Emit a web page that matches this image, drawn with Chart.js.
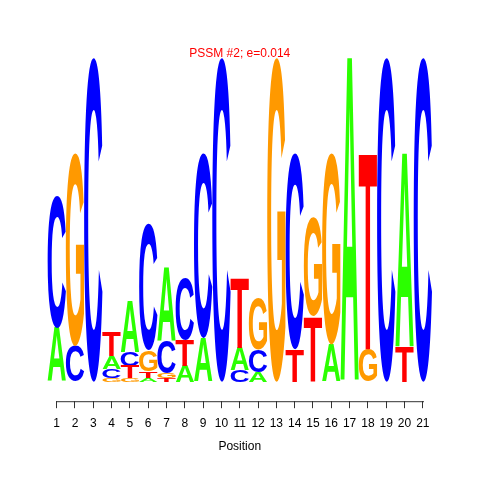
<!DOCTYPE html>
<html>
<head>
<meta charset="utf-8">
<script src="https://cdn.jsdelivr.net/npm/chart.js@4/dist/chart.umd.min.js"></script>
<style>
html,body{margin:0;padding:0;background:#fff;}
canvas{display:block;}
</style>
</head>
<body>
<canvas id="c" width="480" height="480"></canvas>
<script>
const positions = ['1','2','3','4','5','6','7','8','9','10','11','12','13','14','15','16','17','18','19','20','21'];
const letters = ['A','C','G','T'];
const bitsA = [0.33,0,0,0.08,0.32,0.025,0.45,0.10,0.27,0,0.14,0.06,0,0,0,0.23,2.0,0,0,1.20,0];
const bitsC = [0.81,0.22,2.0,0.06,0.085,0.78,0.20,0.38,1.14,2.0,0.07,0.14,0,1.21,0,0,0,0,2.0,0,2.0];
const bitsG = [0,1.19,0,0.02,0.02,0.13,0.03,0,0,0,0,0.32,2.0,0,0.61,1.18,0,0.20,0,0,0];
const bitsT = [0,0,0,0.15,0.075,0.04,0.02,0.16,0,0,0.43,0,0,0.20,0.40,0,0,1.21,0,0.21,0];
const letterColors = {A:'#2bff00', C:'#0000ff', G:'#ff9900', T:'#ff0000'};
const titleText = 'PSSM #2; e=0.014';
const xTitle = 'Position';

const bits = {A:bitsA, C:bitsC, G:bitsG, T:bitsT};
// build floating ranges: letters stacked in increasing height per column
const ranges = {A:[],C:[],G:[],T:[]};
positions.forEach((p,i)=>{
  const order = letters.map(l=>({l, h:bits[l][i]})).sort((a,b)=>a.h-b.h);
  let base = 0;
  order.forEach(o=>{
    if (o.h > 0) { ranges[o.l][i] = [base, base+o.h]; base += o.h; }
    else ranges[o.l][i] = null;
  });
});

const glyphFont = 'bold 200px "Liberation Sans", Arial, sans-serif';
const logoPlugin = {
  id:'logo',
  afterDatasetsDraw(chart){
    const ctx = chart.ctx;
    chart.data.datasets.forEach((ds,di)=>{
      const meta = chart.getDatasetMeta(di);
      meta.data.forEach((el,i)=>{
        if (!ds.data[i]) return;
        const p = el.getProps(['x','y','base','width'], true);
        const top = Math.min(p.y,p.base), bot = Math.max(p.y,p.base);
        const h = bot-top; if (h < 0.3) return;
        const w = p.width;
        ctx.save();
        ctx.font = glyphFont;
        ctx.textBaseline = 'alphabetic';
        ctx.textAlign = 'left';
        const m = ctx.measureText(ds.label);
        const gw = m.actualBoundingBoxLeft + m.actualBoundingBoxRight;
        const gh = m.actualBoundingBoxAscent + m.actualBoundingBoxDescent;
        ctx.translate(p.x - w/2, top);
        ctx.scale(w/gw, h/gh);
        ctx.fillStyle = letterColors[ds.label];
        ctx.fillText(ds.label, m.actualBoundingBoxLeft, m.actualBoundingBoxAscent);
        ctx.restore();
      });
    });
    // axis line from first to last tick
    const xs = chart.scales.x;
    const y = chart.chartArea.bottom;
    ctx.save();
    ctx.strokeStyle = '#333';
    ctx.lineWidth = 1;
    ctx.beginPath();
    ctx.moveTo(Math.round(xs.getPixelForValue(0)), y+0.5);
    ctx.lineTo(Math.round(xs.getPixelForValue(positions.length-1))+1, y+0.5);
    ctx.stroke();
    ctx.restore();
  }
};

new Chart(document.getElementById('c'), {
  type:'bar',
  data:{
    labels: positions,
    datasets: letters.map(l=>({
      label:l,
      data: ranges[l],
      backgroundColor:'rgba(0,0,0,0)',
      borderWidth:0,
      grouped:false,
      barPercentage:1.0,
      categoryPercentage:1.0
    }))
  },
  options:{
    responsive:false,
    animation:false,
    layout:{padding:{top:45,left:47.5,right:48,bottom:26}},
    plugins:{
      legend:{display:false},
      tooltip:{enabled:false},
      title:{display:true, text:titleText, color:'#ff0000',
        font:{family:'"Liberation Sans", Arial, sans-serif', size:12, weight:'normal', lineHeight:0.7},
        padding:{top:4,bottom:0}}
    },
    scales:{
      x:{
        offset:true,
        border:{display:false},
        grid:{display:true, drawOnChartArea:false, drawTicks:true, tickLength:7, offset:false, color:'#333'},
        ticks:{color:'#000', padding:8, maxRotation:0, autoSkip:false,
          font:{family:'"Liberation Sans", Arial, sans-serif', size:12}},
        title:{display:true, text:xTitle, color:'#000', padding:{top:1,bottom:0},
          font:{family:'"Liberation Sans", Arial, sans-serif', size:12}}
      },
      y:{display:false, min:-0.12, max:2.0}
    }
  },
  plugins:[logoPlugin]
});
</script>
</body>
</html>
